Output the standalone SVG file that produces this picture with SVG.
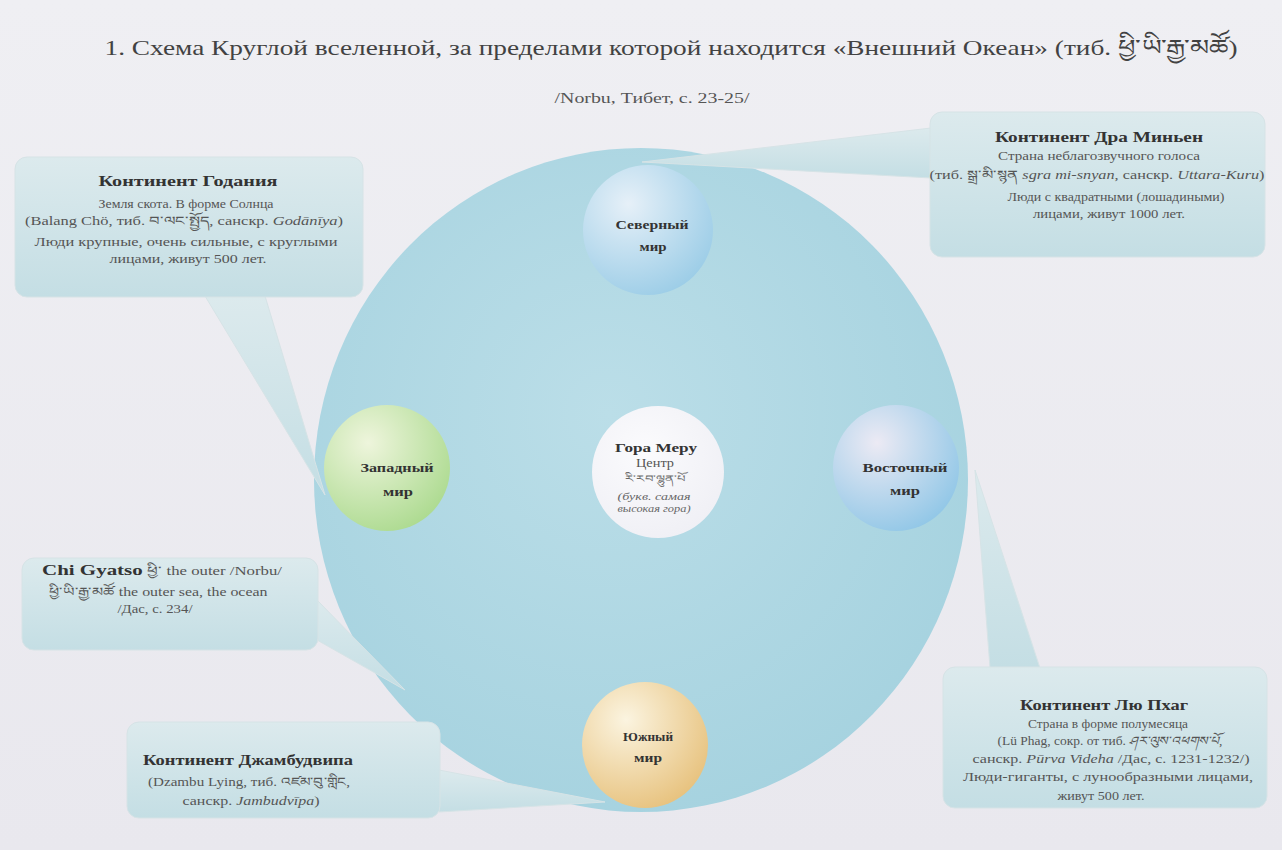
<svg xmlns="http://www.w3.org/2000/svg" width="1282" height="850" viewBox="0 0 1282 850">
<defs>
<linearGradient id="bg" x1="0" y1="0" x2="0" y2="1"><stop offset="0" stop-color="#efeff3"/><stop offset="1" stop-color="#e9e8ee"/></linearGradient>
<radialGradient id="big" cx="0.45" cy="0.4" r="0.65"><stop offset="0" stop-color="#bbdee8"/><stop offset="1" stop-color="#a5d2df"/></radialGradient>
<linearGradient id="box" x1="0" y1="0" x2="0" y2="1"><stop offset="0" stop-color="#dceaed"/><stop offset="1" stop-color="#c4dee4"/></linearGradient>
<radialGradient id="gN" cx="0.35" cy="0.3" r="0.8"><stop offset="0" stop-color="#e6f0f8"/><stop offset="1" stop-color="#98cbe6"/></radialGradient>
<radialGradient id="gW" cx="0.35" cy="0.3" r="0.8"><stop offset="0" stop-color="#eef5dc"/><stop offset="1" stop-color="#a9d98c"/></radialGradient>
<radialGradient id="gE" cx="0.35" cy="0.3" r="0.8"><stop offset="0" stop-color="#eceaf4"/><stop offset="1" stop-color="#8cc5e6"/></radialGradient>
<radialGradient id="gS" cx="0.35" cy="0.3" r="0.8"><stop offset="0" stop-color="#fbf4e0"/><stop offset="1" stop-color="#e6bf78"/></radialGradient>
<radialGradient id="gC" cx="0.4" cy="0.35" r="0.8"><stop offset="0" stop-color="#fbfbfd"/><stop offset="1" stop-color="#eeeef4"/></radialGradient>
</defs>
<style>
text{font-family:"Liberation Serif","DejaVu Serif",serif;fill:#3a3a3a;text-anchor:middle}
.t{font-size:22px;fill:#424242}
.s{font-size:14px;fill:#555}
.h{font-size:15px;font-weight:bold;fill:#333}
.b{font-size:12px;fill:#555}
.n{font-size:12px;font-weight:bold;fill:#333}
.c{font-size:9.5px;fill:#666}
.i{font-style:italic}
.bub{fill:url(#box);stroke:#d6e3e6;stroke-width:1}
</style>
<rect width="1282" height="850" fill="url(#bg)"/>
<text class="t" x="671" y="55" textLength="1133" lengthAdjust="spacingAndGlyphs">1. Схема Круглой вселенной, за пределами которой находится «Внешний Океан» (тиб. ཕྱི་ཡི་རྒྱ་མཚོ)</text>
<text class="s" x="652" y="103" textLength="195" lengthAdjust="spacingAndGlyphs">/Norbu, Тибет, с. 23-25/</text>
<g id="universe"><ellipse cx="641" cy="480" rx="327" ry="332" fill="url(#big)"/></g>
<g id="connectors">
<path class="bub" d="M205,296 L325,495 L265,296 Z"/>
<path class="bub" d="M931,128 L642,162 L931,178 Z"/>
<path class="bub" d="M317,600 L405,690 L317,640 Z"/>
<path class="bub" d="M439,770 L605,802 L439,812 Z"/>
<path class="bub" d="M990,668 L975,470 L1040,668 Z"/>
</g>
<g id="north"><circle cx="648" cy="230" r="65" fill="url(#gN)"/><text class="n" x="652" y="229" textLength="73" lengthAdjust="spacingAndGlyphs">Северный</text><text class="n" x="653" y="251" textLength="27" lengthAdjust="spacingAndGlyphs">мир</text></g>
<g id="west"><circle cx="387" cy="468" r="63" fill="url(#gW)"/><text class="n" x="397" y="472" textLength="73" lengthAdjust="spacingAndGlyphs">Западный</text><text class="n" x="398" y="496" textLength="30" lengthAdjust="spacingAndGlyphs">мир</text></g>
<g id="east"><circle cx="896" cy="468" r="63" fill="url(#gE)"/><text class="n" x="905" y="472" textLength="85" lengthAdjust="spacingAndGlyphs">Восточный</text><text class="n" x="905" y="495" textLength="30" lengthAdjust="spacingAndGlyphs">мир</text></g>
<g id="south"><circle cx="645" cy="745" r="63" fill="url(#gS)"/><text class="n" x="648" y="741" textLength="50" lengthAdjust="spacingAndGlyphs">Южный</text><text class="n" x="648" y="762" textLength="28" lengthAdjust="spacingAndGlyphs">мир</text></g>
<g id="center"><circle cx="658" cy="472" r="66" fill="url(#gC)"/>
<text class="n" x="656" y="452" textLength="82" lengthAdjust="spacingAndGlyphs">Гора Меру</text><text class="b" x="655" y="467" textLength="38" lengthAdjust="spacingAndGlyphs">Центр</text><text class="c" x="655" y="482" textLength="60" lengthAdjust="spacingAndGlyphs">རི་རབ་ལྷུན་པོ</text><text class="c i" x="654" y="500" textLength="73" lengthAdjust="spacingAndGlyphs">(букв. самая</text><text class="c i" x="654" y="512" textLength="73" lengthAdjust="spacingAndGlyphs">высокая гора)</text></g>
<g id="godaniya"><rect class="bub" x="15" y="157" width="348" height="140" rx="12"/>
<text class="h" x="188" y="186" textLength="179" lengthAdjust="spacingAndGlyphs">Континент Годания</text>
<text class="b" x="186" y="208" textLength="175" lengthAdjust="spacingAndGlyphs">Земля скота. В форме Солнца</text>
<text class="b" x="184" y="225" textLength="318" lengthAdjust="spacingAndGlyphs">(Balang Chö, тиб. བ་ལང་སྤྱོད,  санскр. <tspan class="i">Godānīya</tspan>)</text>
<text class="b" x="186" y="246" textLength="303" lengthAdjust="spacingAndGlyphs">Люди крупные, очень сильные, с круглыми</text>
<text class="b" x="188" y="263" textLength="157" lengthAdjust="spacingAndGlyphs">лицами, живут 500 лет.</text></g>
<g id="dra"><rect class="bub" x="930" y="112" width="335" height="145" rx="12"/>
<text class="h" x="1099" y="142" textLength="208" lengthAdjust="spacingAndGlyphs">Континент Дра Миньен</text>
<text class="b" x="1099" y="160" textLength="202" lengthAdjust="spacingAndGlyphs">Страна неблагозвучного голоса</text>
<text class="b" x="1097" y="179" textLength="335" lengthAdjust="spacingAndGlyphs">(тиб. སྒྲ་མི་སྙན <tspan class="i">sgra mi-snyan</tspan>,  санскр. <tspan class="i">Uttara-Kuru</tspan>)</text>
<text class="b" x="1116" y="201" textLength="217" lengthAdjust="spacingAndGlyphs">Люди с квадратными (лошадиными)</text>
<text class="b" x="1109" y="218" textLength="152" lengthAdjust="spacingAndGlyphs">лицами, живут 1000 лет.</text></g>
<g id="chi"><rect class="bub" x="22" y="558" width="296" height="92" rx="12"/>
<text class="b" x="162" y="575" textLength="240" lengthAdjust="spacingAndGlyphs"><tspan class="h" font-size="15">Chi Gyatso</tspan> ཕྱི་ the outer /Norbu/</text>
<text class="b" x="158" y="596" textLength="219" lengthAdjust="spacingAndGlyphs">ཕྱི་ཡི་རྒྱ་མཚོ the outer sea, the ocean</text>
<text class="b" x="155" y="613" textLength="75" lengthAdjust="spacingAndGlyphs">/Дас, с. 234/</text></g>
<g id="jambu"><rect class="bub" x="127" y="722" width="313" height="96" rx="12"/>
<text class="h" x="248" y="765" textLength="210" lengthAdjust="spacingAndGlyphs">Континент Джамбудвипа</text>
<text class="b" x="249" y="786" textLength="202" lengthAdjust="spacingAndGlyphs">(Dzambu Lying, тиб. འཛམ་བུ་གླིང,</text>
<text class="b" x="251" y="805" textLength="137" lengthAdjust="spacingAndGlyphs">санскр. <tspan class="i">Jambudvīpa</tspan>)</text></g>
<g id="lu"><rect class="bub" x="943" y="667" width="324" height="141" rx="12"/>
<text class="h" x="1104" y="710" textLength="168" lengthAdjust="spacingAndGlyphs">Континент Лю Пхаг</text>
<text class="b" x="1108" y="728" textLength="160" lengthAdjust="spacingAndGlyphs">Страна в форме полумесяца</text>
<text class="b" x="1110" y="745" textLength="225" lengthAdjust="spacingAndGlyphs">(Lü Phag, сокр. от тиб. <tspan class="i">ཤར་ལུས་འཕགས་པོ</tspan>,</text>
<text class="b" x="1111" y="763" textLength="277" lengthAdjust="spacingAndGlyphs">санскр. <tspan class="i">Pūrva Videha</tspan> /Дас, с. 1231-1232/)</text>
<text class="b" x="1108" y="781" textLength="290" lengthAdjust="spacingAndGlyphs">Люди-гиганты, с лунообразными лицами,</text>
<text class="b" x="1101" y="800" textLength="87" lengthAdjust="spacingAndGlyphs">живут 500 лет.</text></g>
</svg>
